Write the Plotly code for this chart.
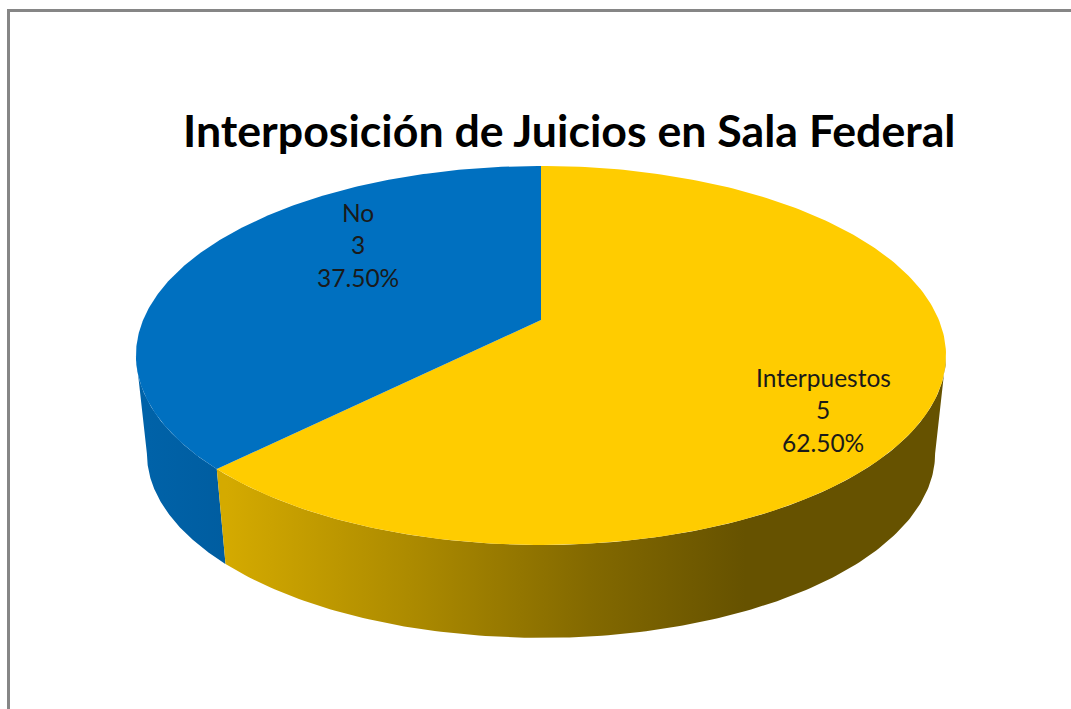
import numpy as np
import plotly.graph_objects as go

# Data
categories = ["Interpuestos", "No"]
values = [5, 3]
title_text = "Interposición de Juicios en Sala Federal"

# Styles
top_colors = ["#FFCC00", "#0070C0"]
W, H = 1071, 709
CX, CY_TOP, CY_BOT = 541, 320, 419
A, B, K, S = 397.9, 182.9, 0.187, 0.973
label_pos = [(823, 377), (358, 212)]
LINE_GAP = 32.5


def project(t_deg, bottom=False):
    t = np.radians(np.asarray(t_deg, dtype=float))
    X, Y = np.sin(t), -np.cos(t)
    d = 1 - K * Y
    s, cy = (S, CY_BOT) if bottom else (1.0, CY_TOP)
    return CX + s * A * X / d, cy + s * B * Y / d


total = sum(values)
angles = np.cumsum([0] + [v / total * 360 for v in values])
tan_right = np.degrees(np.arccos(-K))
tan_left = 360 - tan_right

fig = go.Figure()


def side(t0, t1, **kw):
    ts = np.linspace(t0, t1, 160)
    x1, y1 = project(ts)
    x2, y2 = project(ts[::-1], bottom=True)
    fig.add_trace(go.Scatter(x=np.r_[x1, x2, x1[0]], y=np.r_[y1, y2, y1[0]], mode="lines",
                             fill="toself", line=dict(width=0), hoverinfo="skip", **kw))


# Sides of the disc
side(angles[1], tan_left, fillcolor="#005FA6",
     fillgradient=dict(type="horizontal", start=148, stop=226,
                       colorscale=[[0, "#0062A8"], [1, "#005DA0"]]))
side(tan_right, angles[1],
     fillgradient=dict(type="horizontal", start=226, stop=745,
                       colorscale=[[0, "#D4AA00"], [0.35, "#AD8B00"], [0.7, "#836900"], [1, "#665200"]]))

# Top faces
for i, cat in enumerate(categories):
    ts = np.linspace(angles[i], angles[i + 1], 240)
    x, y = project(ts)
    cx0, cy0 = project(0)[0], CY_TOP
    fig.add_trace(go.Scatter(x=np.r_[cx0, x, cx0], y=np.r_[cy0, y, cy0], mode="lines", fill="toself",
                             fillcolor=top_colors[i], line=dict(width=0), name=cat, hoverinfo="name"))

# Data labels
for cat, val, (lx, ly) in zip(categories, values, label_pos):
    lines = [cat, str(val), f"{val / total * 100:.2f}%"]
    for j, txt in enumerate(lines):
        fig.add_annotation(x=lx, y=ly + j * LINE_GAP, text=txt, showarrow=False, xanchor="center",
                           yanchor="middle", font=dict(family="Lato", size=24.5, color="#1a1a1a"))

# Title
fig.add_annotation(x=569, y=130, text=f"<b>{title_text}</b>", showarrow=False, xanchor="center",
                   yanchor="middle", font=dict(family="Lato", size=44.7, color="#000000"))

# Chart frame
fig.add_shape(type="path", path=f"M 8.5 {H} L 8.5 10.5 L {W} 10.5", line=dict(color="#868686", width=3))

fig.update_layout(
    width=W, height=H, margin=dict(l=0, r=0, t=0, b=0), showlegend=False,
    paper_bgcolor="white", plot_bgcolor="white",
    xaxis=dict(range=[0, W], visible=False, fixedrange=True),
    yaxis=dict(range=[H, 0], visible=False, fixedrange=True),
)
fig.write_html("out.html", config={"displayModeBar": False},
               post_script="document.body.style.margin='0';document.body.style.overflow='hidden';")
